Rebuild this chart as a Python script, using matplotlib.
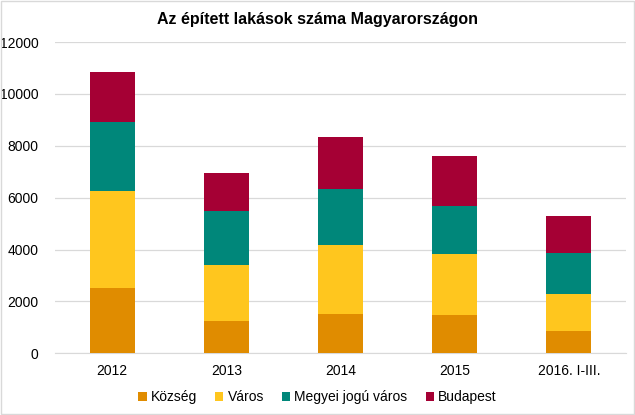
import matplotlib.pyplot as plt
import numpy as np
from matplotlib.patches import Rectangle

plt.rcParams['font.family'] = ['Liberation Sans', 'DejaVu Sans']

categories = ['2012', '2013', '2014', '2015', '2016. I-III.']
kozseg = [2517, 1257, 1515, 1465, 871]
varos = [3739, 2135, 2648, 2351, 1403]
megyei = [2648, 2105, 2170, 1862, 1592]
budapest = [1951, 1442, 1993, 1928, 1427]

series = [('Község', kozseg, '#E08C00'),
          ('Város', varos, '#FFC61E'),
          ('Megyei jogú város', megyei, '#00877A'),
          ('Budapest', budapest, '#A50034')]

fig = plt.figure(figsize=(6.35, 4.15), dpi=100)
ax = fig.add_axes([0.0866, 0.1487, 0.899, 0.750])

x = np.arange(len(categories))
bottom = np.zeros(len(categories))
for name, vals, col in series:
    ax.bar(x, vals, 0.395, bottom=bottom, color=col, label=name, zorder=3)
    bottom += np.array(vals)

ax.set_xlim(-0.5, len(categories) - 0.5)
ax.set_ylim(0, 12000)
ax.set_yticks(range(0, 12001, 2000))
ax.set_xticks(x)
ax.set_xticklabels(categories)
ax.grid(axis='y', color='#D9D9D9', linewidth=0.9, zorder=0)
for s in ['top', 'right', 'left']:
    ax.spines[s].set_visible(False)
ax.spines['bottom'].set_color('#D9D9D9')
ax.tick_params(length=0, labelsize=10, colors='#000000')
ax.tick_params(axis='y', pad=12)
ax.tick_params(axis='x', pad=8)

fig.text(0.5, 0.952, 'Az épített lakások száma Magyarországon', ha='center', va='center',
         fontsize=11.5, fontweight='bold', family=['Liberation Sans Narrow', 'Liberation Sans'])

ax.legend(loc='center', bbox_to_anchor=(0.5, 0.5), bbox_transform=fig.transFigure,
          ncol=4, frameon=False, fontsize=10, handlelength=0.6, handleheight=0.6,
          handletextpad=0.3, columnspacing=1.3)
leg = ax.get_legend()
leg.set_bbox_to_anchor((0.5, 0.043), transform=fig.transFigure)

fig.patches.append(Rectangle((0.001, 0.002), 0.997, 0.996, transform=fig.transFigure,
                             fill=False, edgecolor='#D9D9D9', linewidth=1))

plt.savefig('out.png', dpi=100)
